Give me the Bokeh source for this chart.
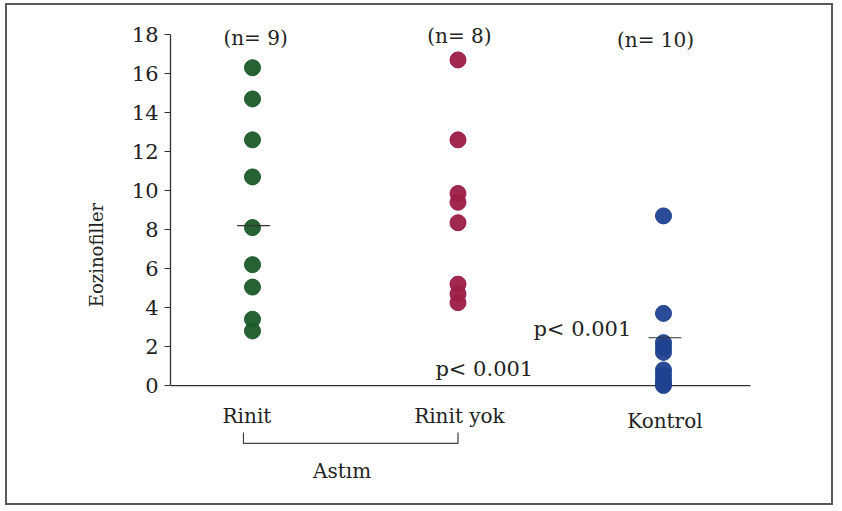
from bokeh.plotting import figure
from bokeh.models import Range1d, FixedTicker, ColumnDataSource
from bokeh.core.properties import value
from bokeh.embed import file_html
from bokeh.resources import INLINE

# Eosinophil counts per group
groups = ["Rinit", "Rinit yok", "Kontrol"]
rinit = [16.3, 14.7, 12.6, 10.7, 8.1, 6.2, 5.05, 3.4, 2.8]
rinit_yok = [16.7, 12.6, 9.85, 9.4, 8.35, 5.2, 4.7, 4.25]
kontrol = [8.7, 3.7, 2.2, 1.95, 1.7, 0.8, 0.55, 0.3, 0.1, 0.0]
group_values = [rinit, rinit_yok, kontrol]
group_colors = ["#1b5a2a", "#9c1c45", "#1f4190"]

# Horizontal reference marks (group centre line), None where absent
center_marks = [8.2, None, 2.45]

p_texts = ["p< 0.001", "p< 0.001"]
y_ticks = [0, 2, 4, 6, 8, 10, 12, 14, 16, 18]
y_title = "Eozinofiller"
bracket_title = "Astım"

SERIF = "DejaVu Serif"
TXT = "#222222"

p = figure(width=828, height=502, output_backend="svg", toolbar_location=None,
           x_range=Range1d(-0.399, 2.618), y_range=Range1d(-5.64, 19.03),
           x_axis_type=None, min_border_left=163, min_border_right=45,
           min_border_top=9, min_border_bottom=12)
p.outline_line_color = None
p.grid.visible = False
p.background_fill_color = "white"
p.border_fill_color = "white"
# thin frame around the whole chart
p.styles = {"border": "2px solid #5a5a5a", "margin-left": "5px", "margin-top": "3px"}

# y axis limited to 0..18
ax = p.yaxis[0]
ax.bounds = (0, 18)
ax.ticker = FixedTicker(ticks=y_ticks)
ax.minor_tick_line_color = None
ax.major_tick_in = 0
ax.major_tick_out = 6
ax.major_label_standoff = 6
ax.axis_line_color = "#303030"
ax.axis_line_width = 1.3
ax.major_tick_line_color = "#303030"
ax.major_label_text_font = SERIF
ax.major_label_text_font_size = "21px"
ax.major_label_text_color = TXT
ax.axis_label = y_title
ax.axis_label_text_font = SERIF
ax.axis_label_text_font_size = "18px"
ax.axis_label_text_font_style = "normal"
ax.axis_label_text_color = TXT
ax.axis_label_standoff = 22

# baseline at zero
p.segment(x0=[-0.399], y0=[0], x1=[2.423], y1=[0], line_color="#303030", line_width=1.2)

# points for each group
for i, (vals, col) in enumerate(zip(group_values, group_colors)):
    src = ColumnDataSource(dict(x=[i] * len(vals), y=vals))
    p.scatter("x", "y", source=src, size=16, fill_color=col, line_color=col,
              line_width=1, fill_alpha=0.95)

# centre marks
mx0, mx1, my = [], [], []
for i, m in enumerate(center_marks):
    if m is not None:
        mx0.append(i - 0.08 + (0.005 if i == 0 else 0.007))
        mx1.append(i + 0.08 + (0.005 if i == 0 else 0.007))
        my.append(m)
p.segment(x0=mx0, y0=my, x1=mx1, y1=my, line_color="#333333", line_width=1.2)

# group sizes above each column
n_labels = [f"(n= {len(v)})" for v in group_values]
p.text(x=[0.015, 1.007, 1.961], y=[17.8, 17.95, 17.7], text=n_labels,
       text_font=value(SERIF), text_font_size="20px", text_color=TXT,
       text_align="center", text_baseline="middle")

# group names under the baseline
p.text(x=[-0.027, 1.007, 2.007], y=[-1.56, -1.56, -1.82], text=groups,
       text_font=value(SERIF), text_font_size="20px", text_color=TXT,
       text_align="center", text_baseline="middle")

# bracket joining the two asthma groups
p.multi_line(xs=[[-0.044, -0.044, 1.0, 1.0]], ys=[[-2.41, -2.97, -2.97, -2.41]],
             line_color="#404040", line_width=1.2)
p.text(x=[0.436], y=[-4.36], text=[bracket_title],
       text_font=value(SERIF), text_font_size="20px", text_color=TXT,
       text_align="center", text_baseline="middle")

# significance notes
p.text(x=[0.890, 1.367], y=[0.87, 2.92], text=p_texts,
       text_font=value(SERIF), text_font_size="21px", text_color=TXT,
       text_align="left", text_baseline="middle")

open("out.html", "w").write(file_html(p, INLINE))
